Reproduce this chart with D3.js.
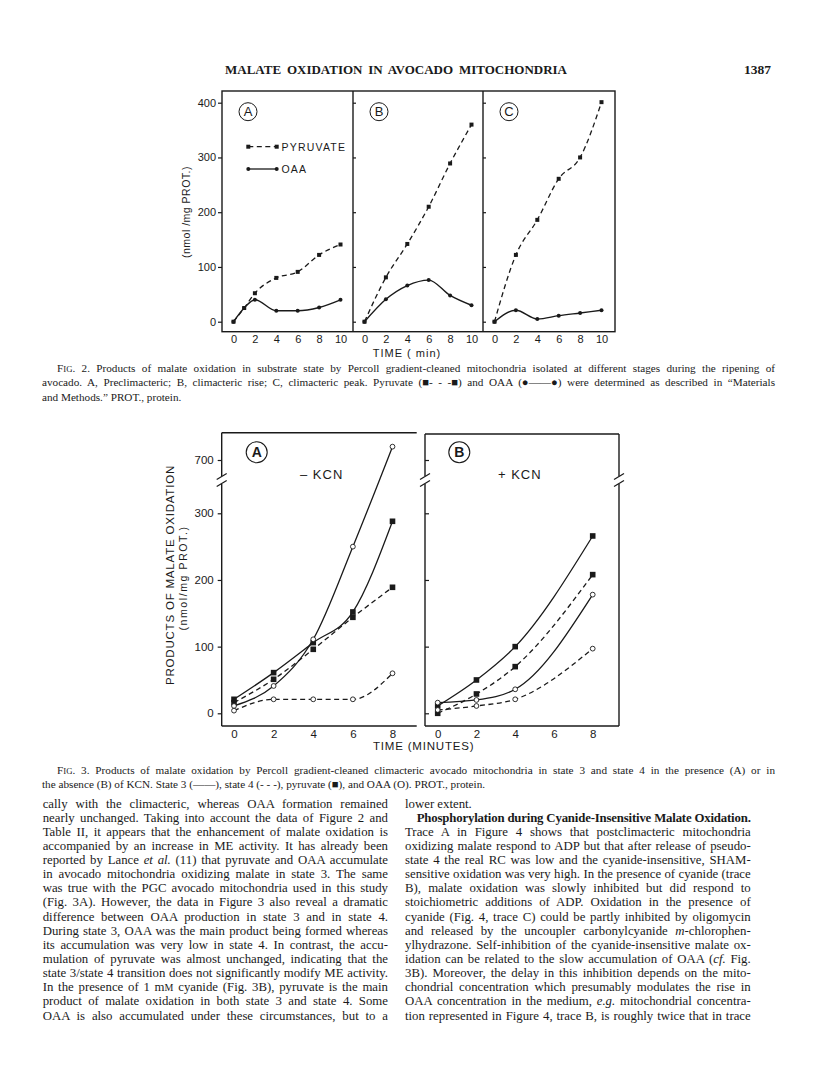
<!DOCTYPE html>
<html>
<head>
<meta charset="utf-8">
<script src="https://cdn.jsdelivr.net/npm/d3@7"></script>
<style>
  body { margin: 0; background: #fff; }
  svg { display: block; }
</style>
</head>
<body>
<svg id="page"></svg>
<script>
// ---- data ----
const fig2Times = [0, 2, 4, 6, 8, 10]
const fig2TimesA = [0, 1, 2, 4, 6, 8, 10]
const pyruvateA = [0, 25, 52, 80, 91, 122, 141]
const oaaA = [0, 25, 40, 20, 20, 26, 40]
const pyruvateB = [0, 81, 142, 210, 289, 360]
const oaaB = [0, 41, 66, 76, 48, 30]
const pyruvateC = [0, 122, 186, 261, 300, 401]
const oaaC = [0, 21, 5, 11, 16, 21]
const fig2YTicks = [0, 100, 200, 300, 400]

const fig3TimesA = [0, 2, 4, 6, 8]
const state3PyrA = [21, 61, 106, 152, 288]
const state4PyrA = [16, 51, 96, 144, 189]
const state3OaaA = [11, 41, 111, 250, 720]
const state4OaaA = [4, 21, 21, 21, 60]
const fig3TimesB = [0, 2, 4, 8]
const state3PyrB = [11, 50, 100, 266]
const state4PyrB = [0, 29, 70, 208]
const state3OaaB = [16, 20, 36, 178]
const state4OaaB = [5, 11, 21, 97]
const fig3LowTicks = [0, 100, 200, 300]
const fig3HighTicks = [700]
const fig3XTicks = [0, 2, 4, 6, 8]

const leftColumn = [
  "cally with the climacteric, whereas OAA formation remained",
  "nearly unchanged. Taking into account the data of Figure 2 and",
  "Table II, it appears that the enhancement of malate oxidation is",
  "accompanied by an increase in ME activity. It has already been",
  "reported by Lance _et al._ (11) that pyruvate and OAA accumulate",
  "in avocado mitochondria oxidizing malate in state 3. The same",
  "was true with the PGC avocado mitochondria used in this study",
  "(Fig. 3A). However, the data in Figure 3 also reveal a dramatic",
  "difference between OAA production in state 3 and in state 4.",
  "During state 3, OAA was the main product being formed whereas",
  "its accumulation was very low in state 4. In contrast, the accu-",
  "mulation of pyruvate was almost unchanged, indicating that the",
  "state 3/state 4 transition does not significantly modify ME activity.",
  "In the presence of 1 m^M^ cyanide (Fig. 3B), pyruvate is the main",
  "product of malate oxidation in both state 3 and state 4. Some",
  "OAA is also accumulated under these circumstances, but to a"
]
const rightColumn = [
  "lower extent.",
  "*Phosphorylation during Cyanide-Insensitive Malate Oxidation.*",
  "Trace A in Figure 4 shows that postclimacteric mitochondria",
  "oxidizing malate respond to ADP but that after release of pseudo-",
  "state 4 the real RC was low and the cyanide-insensitive, SHAM-",
  "sensitive oxidation was very high. In the presence of cyanide (trace",
  "B), malate oxidation was slowly inhibited but did respond to",
  "stoichiometric additions of ADP. Oxidation in the presence of",
  "cyanide (Fig. 4, trace C) could be partly inhibited by oligomycin",
  "and released by the uncoupler carbonylcyanide _m_-chlorophen-",
  "ylhydrazone. Self-inhibition of the cyanide-insensitive malate ox-",
  "idation can be related to the slow accumulation of OAA (_cf._ Fig.",
  "3B). Moreover, the delay in this inhibition depends on the mito-",
  "chondrial concentration which presumably modulates the rise in",
  "OAA concentration in the medium, _e.g._ mitochondrial concentra-",
  "tion represented in Figure 4, trace B, is roughly twice that in trace"
]
const fig2Caption = [
  "F^IG^. 2. Products of malate oxidation in substrate state by Percoll gradient-cleaned mitochondria isolated at different stages during the ripening of",
  "avocado. A, Preclimacteric; B, climacteric rise; C, climacteric peak. Pyruvate (\u25A0- - -\u25A0) and OAA (\u25CF\u2014\u2014\u25CF) were determined as described in \u201CMaterials",
  "and Methods.\u201D PROT., protein."
]
const fig3Caption = [
  "F^IG^. 3. Products of malate oxidation by Percoll gradient-cleaned climacteric avocado mitochondria in state 3 and state 4 in the presence (A) or in",
  "the absence (B) of KCN. State 3 (\u2014\u2014), state 4 (- - -), pyruvate (\u25A0), and OAA (O). PROT., protein."
]

const width = 816
const height = 1073
const serif = "'Liberation Serif', 'Times New Roman', serif"
const sans = "'Liberation Sans', 'DejaVu Sans', sans-serif"
const ink = "#1a1a1a"

const svg = d3.select("#page")
  .attr("width", width)
  .attr("height", height)
svg.append("rect").attr("width", width).attr("height", height).attr("fill", "#fff")

// ---- text helpers ----
function addRichText(g, str, x, y, size, opts = {}) {
  const t = g.append("text")
    .attr("x", x).attr("y", y)
    .attr("font-family", serif)
    .attr("font-size", size)
    .attr("fill", ink)
  if (opts.bold) t.attr("font-weight", "bold")
  // _italic_  *bold*  ^smallcaps^
  const parts = str.split(/(_[^_]+_|\*[^*]+\*|\^[^^]+\^)/).filter(s => s.length)
  parts.forEach(p => {
    const span = t.append("tspan")
    if (p.startsWith("_")) span.text(p.slice(1, -1)).attr("font-style", "italic")
    else if (p.startsWith("*")) span.text(p.slice(1, -1)).attr("font-weight", "bold")
    else if (p.startsWith("^")) span.text(p.slice(1, -1)).attr("font-size", size * 0.78)
    else span.text(p)
  })
  if (opts.justify) {
    const natural = t.node().getComputedTextLength()
    const spaces = (str.match(/ /g) || []).length
    const extra = opts.justify - natural
    if (spaces > 0 && extra / spaces > -0.8) {
      t.attr("word-spacing", extra / spaces)
    } else {
      // too wide: squeeze letters a bit, keep spaces readable
      const chars = str.replace(/[_*^]/g, "").length
      t.attr("letter-spacing", extra / chars)
    }
  }
  return t
}

// ---- running head ----
addRichText(svg, "MALATE OXIDATION IN AVOCADO MITOCHONDRIA", 225, 74, 13, { bold: true, justify: 342 })
svg.append("text")
  .attr("x", 771).attr("y", 74).attr("text-anchor", "end")
  .attr("font-family", serif).attr("font-size", 13.5).attr("font-weight", "bold")
  .attr("fill", ink)
  .text("1387")

// ---- Figure 2 ----
const fig2 = svg.append("g")
const fig2Top = 91, fig2Bottom = 331.7
const fig2Y = d3.scaleLinear().domain([0, 400]).range([321.7, 102.7])
const fig2Panels = [
  { key: "A", left: 222, right: 353, times: fig2TimesA, pyr: pyruvateA, oaa: oaaA },
  { key: "B", left: 353, right: 483, times: fig2Times, pyr: pyruvateB, oaa: oaaB },
  { key: "C", left: 483, right: 615, times: fig2Times, pyr: pyruvateC, oaa: oaaC },
]

fig2.append("rect")
  .attr("x", 222).attr("y", fig2Top)
  .attr("width", 615 - 222).attr("height", fig2Bottom - fig2Top)
  .attr("fill", "none").attr("stroke", ink).attr("stroke-width", 1.4)

fig2Panels.forEach((p, i) => {
  const x = d3.scaleLinear().domain([0, 10]).range([p.left + 11.5, p.left + 118.5])
  if (i > 0) {
    fig2.append("line")
      .attr("x1", p.left).attr("x2", p.left)
      .attr("y1", fig2Top).attr("y2", fig2Bottom)
      .attr("stroke", ink).attr("stroke-width", 1.4)
  }

  // y axis
  const yAxis = fig2.append("g").attr("transform", `translate(${p.left},0)`)
  if (i === 0) {
    yAxis.call(d3.axisLeft(fig2Y).tickValues(fig2YTicks).tickSize(4).tickPadding(2))
  } else {
    yAxis.call(d3.axisRight(fig2Y).tickValues(fig2YTicks).tickSize(3).tickFormat(""))
  }
  yAxis.select(".domain").remove()
  yAxis.selectAll("line").attr("stroke", ink).attr("stroke-width", 1.2)
  yAxis.selectAll("text").attr("font-family", sans).attr("font-size", 11).attr("fill", ink)

  // x axis labels
  const xAxis = fig2.append("g").attr("transform", `translate(0,${fig2Bottom})`)
    .call(d3.axisBottom(x).tickValues(fig2Times).tickSize(0).tickPadding(4))
  xAxis.select(".domain").remove()
  xAxis.selectAll("text").attr("font-family", sans).attr("font-size", 11).attr("fill", ink)

  // circled letter
  const cx = p.left + 26, cy = 111.7
  fig2.append("circle").attr("cx", cx).attr("cy", cy).attr("r", 9)
    .attr("fill", "none").attr("stroke", ink).attr("stroke-width", 1)
  fig2.append("text").attr("x", cx).attr("y", cy + 4.5).attr("text-anchor", "middle")
    .attr("font-family", sans).attr("font-size", 13).attr("fill", ink).text(p.key)

  const line = d3.line()
    .x((d, j) => x(p.times[j]))
    .y(d => fig2Y(d))
    .curve(d3.curveMonotoneX)

  fig2.append("path").datum(p.pyr).attr("d", line)
    .attr("fill", "none").attr("stroke", ink).attr("stroke-width", 1.3)
    .attr("stroke-dasharray", "5,3.5")
  fig2.append("path").datum(p.oaa).attr("d", line)
    .attr("fill", "none").attr("stroke", ink).attr("stroke-width", 1.4)

  fig2.selectAll(null).data(p.pyr).enter().append("rect")
    .attr("x", (d, j) => x(p.times[j]) - 2).attr("y", d => fig2Y(d) - 2)
    .attr("width", 4).attr("height", 4).attr("fill", ink)
  fig2.selectAll(null).data(p.oaa).enter().append("circle")
    .attr("cx", (d, j) => x(p.times[j])).attr("cy", d => fig2Y(d))
    .attr("r", 2).attr("fill", ink)
})

// legend in panel A
const legendRows = [
  { label: "PYRUVATE", y: 146.7, dash: "5,3.5", marker: "square" },
  { label: "OAA", y: 169, dash: null, marker: "circle" },
]
legendRows.forEach(r => {
  fig2.append("line").attr("x1", 248.3).attr("x2", 276.7).attr("y1", r.y).attr("y2", r.y)
    .attr("stroke", ink).attr("stroke-width", 1.3).attr("stroke-dasharray", r.dash)
  ;[248.3, 276.7].forEach(mx => {
    if (r.marker === "square") {
      fig2.append("rect").attr("x", mx - 2).attr("y", r.y - 2).attr("width", 4).attr("height", 4).attr("fill", ink)
    } else {
      fig2.append("circle").attr("cx", mx).attr("cy", r.y).attr("r", 2).attr("fill", ink)
    }
  })
  fig2.append("text").attr("x", 281.5).attr("y", r.y + 4)
    .attr("font-family", sans).attr("font-size", 10.5).attr("letter-spacing", 1.2)
    .attr("fill", ink).text(r.label)
})

fig2.append("text")
  .attr("transform", "translate(190,212) rotate(-90)")
  .attr("text-anchor", "middle")
  .attr("font-family", sans).attr("font-size", 10.5).attr("letter-spacing", 0.5).attr("fill", ink)
  .text("(nmol /mg PROT.)")
fig2.append("text")
  .attr("x", 407).attr("y", 357).attr("text-anchor", "middle")
  .attr("font-family", sans).attr("font-size", 11).attr("letter-spacing", 1).attr("fill", ink)
  .text("TIME ( min)")

// caption
fig2Caption.forEach((s, i) => {
  const x = i === 0 ? 57 : 42
  addRichText(svg, s, x, 371.5 + i * 14.5, 11.2, i < 2 ? { justify: 775 - x } : {})
})

// ---- Figure 3 ----
const fig3 = svg.append("g")
const fig3Bottom = 726
const yLow = d3.scaleLinear().domain([0, 300]).range([713.3, 513.3])
const yHigh = d3.scaleLinear().domain([700, 800]).range([460, 393.3])
const fig3Y = v => (v <= 300 ? yLow(v) : yHigh(v))
const breakY = 480

const fig3Panels = [
  { key: "A", left: 221.7, right: 416.7, top: 432.7, x0: 234, x8: 392.5, times: fig3TimesA,
    s3p: state3PyrA, s4p: state4PyrA, s3o: state3OaaA, s4o: state4OaaA, tag: "\u2013 KCN", tagX: 300 },
  { key: "B", left: 425, right: 619, top: 434, x0: 437.7, x8: 592.7, times: fig3TimesB,
    s3p: state3PyrB, s4p: state4PyrB, s3o: state3OaaB, s4o: state4OaaB, tag: "+ KCN", tagX: 498 },
]

function drawBreak(g, x) {
  g.append("rect").attr("x", x - 3).attr("y", breakY - 4).attr("width", 6).attr("height", 8).attr("fill", "#fff")
  ;[-3.5, 3.5].forEach(off => {
    g.append("line")
      .attr("x1", x - 5).attr("y1", breakY + off + 3)
      .attr("x2", x + 5).attr("y2", breakY + off - 3)
      .attr("stroke", ink).attr("stroke-width", 1.2)
  })
}

fig3Panels.forEach((p, i) => {
  const x = d3.scaleLinear().domain([0, 8]).range([p.x0, p.x8])

  // frame
  fig3.append("line").attr("x1", p.left).attr("x2", p.right).attr("y1", p.top).attr("y2", p.top)
    .attr("stroke", ink).attr("stroke-width", 1.4)
  fig3.append("line").attr("x1", p.left).attr("x2", p.right).attr("y1", fig3Bottom).attr("y2", fig3Bottom)
    .attr("stroke", ink).attr("stroke-width", 1.4)
  fig3.append("line").attr("x1", p.left).attr("x2", p.left).attr("y1", p.top).attr("y2", fig3Bottom)
    .attr("stroke", ink).attr("stroke-width", 1.4)
  if (i === 1) {
    fig3.append("line").attr("x1", p.right).attr("x2", p.right).attr("y1", p.top).attr("y2", fig3Bottom)
      .attr("stroke", ink).attr("stroke-width", 1.4)
  }

  // y axes (low and high segments)
  ;[[yLow, fig3LowTicks], [yHigh, fig3HighTicks]].forEach(([sc, ticks]) => {
    const ax = fig3.append("g").attr("transform", `translate(${p.left},0)`)
    if (i === 0) ax.call(d3.axisLeft(sc).tickValues(ticks).tickSize(4).tickPadding(4))
    else ax.call(d3.axisRight(sc).tickValues(ticks).tickSize(4).tickFormat(""))
    ax.select(".domain").remove()
    ax.selectAll("line").attr("stroke", ink).attr("stroke-width", 1.2)
    ax.selectAll("text").attr("font-family", sans).attr("font-size", 11.5).attr("fill", ink)
  })

  const xAxis = fig3.append("g").attr("transform", `translate(0,${fig3Bottom})`)
    .call(d3.axisBottom(x).tickValues(fig3XTicks).tickSize(0).tickPadding(4))
  xAxis.select(".domain").remove()
  xAxis.selectAll("text").attr("font-family", sans).attr("font-size", 11.5).attr("fill", ink)

  drawBreak(fig3, p.left)
  if (i === 1) drawBreak(fig3, p.right)

  // circled letter and KCN tag
  const cx = i === 0 ? 256.7 : 459.3, cy = 452.3
  fig3.append("circle").attr("cx", cx).attr("cy", cy).attr("r", 10.5)
    .attr("fill", "none").attr("stroke", ink).attr("stroke-width", 1.1)
  fig3.append("text").attr("x", cx).attr("y", cy + 5).attr("text-anchor", "middle")
    .attr("font-family", sans).attr("font-size", 14).attr("font-weight", "bold").attr("fill", ink).text(p.key)
  fig3.append("text").attr("x", p.tagX).attr("y", 479)
    .attr("font-family", sans).attr("font-size", 13).attr("letter-spacing", 1).attr("fill", ink).text(p.tag)

  const line = d3.line()
    .x((d, j) => x(p.times[j]))
    .y(d => fig3Y(d))
    .curve(d3.curveMonotoneX)

  const series = [
    { vals: p.s3p, dash: null, mark: "square" },
    { vals: p.s4p, dash: "5,3.5", mark: "square" },
    { vals: p.s3o, dash: null, mark: "circle" },
    { vals: p.s4o, dash: "5,3.5", mark: "circle" },
  ]
  series.forEach(s => {
    fig3.append("path").datum(s.vals).attr("d", line)
      .attr("fill", "none").attr("stroke", ink).attr("stroke-width", 1.3)
      .attr("stroke-dasharray", s.dash)
  })
  series.forEach(s => {
    if (s.mark === "square") {
      fig3.selectAll(null).data(s.vals).enter().append("rect")
        .attr("x", (d, j) => x(p.times[j]) - 2.8).attr("y", d => fig3Y(d) - 2.8)
        .attr("width", 5.6).attr("height", 5.6).attr("fill", ink)
    } else {
      fig3.selectAll(null).data(s.vals).enter().append("circle")
        .attr("cx", (d, j) => x(p.times[j])).attr("cy", d => fig3Y(d))
        .attr("r", 2.4).attr("fill", "#fff").attr("stroke", ink).attr("stroke-width", 0.9)
    }
  })
})

fig3.append("text")
  .attr("transform", "translate(174,575) rotate(-90)")
  .attr("text-anchor", "middle")
  .attr("font-family", sans).attr("font-size", 11.5).attr("letter-spacing", 0.8).attr("fill", ink)
  .text("PRODUCTS OF MALATE OXIDATION")
fig3.append("text")
  .attr("transform", "translate(187,578) rotate(-90)")
  .attr("text-anchor", "middle")
  .attr("font-family", sans).attr("font-size", 10.5).attr("letter-spacing", 1.6).attr("fill", ink)
  .text("(nmol/mg PROT.)")
fig3.append("text")
  .attr("x", 373).attr("y", 750)
  .attr("font-family", sans).attr("font-size", 11.5).attr("letter-spacing", 0.8).attr("fill", ink)
  .text("TIME  (MINUTES)")

fig3Caption.forEach((s, i) => {
  const x = i === 0 ? 57 : 42
  addRichText(svg, s, x, 773.5 + i * 14.3, 11.2, i === 0 ? { justify: 775 - x } : {})
})

// ---- body text, two justified columns ----
const lineGap = 14.14
leftColumn.forEach((s, i) => {
  addRichText(svg, s, 42.7, 807.5 + i * lineGap, 12.8, { justify: 388 - 42.7 })
})
rightColumn.forEach((s, i) => {
  const x = i === 1 ? 416.7 : 405
  const opts = i === 0 ? {} : { justify: 750.7 - x }
  addRichText(svg, s, x, 807.5 + i * lineGap, 12.8, opts)
})
</script>
</body>
</html>
